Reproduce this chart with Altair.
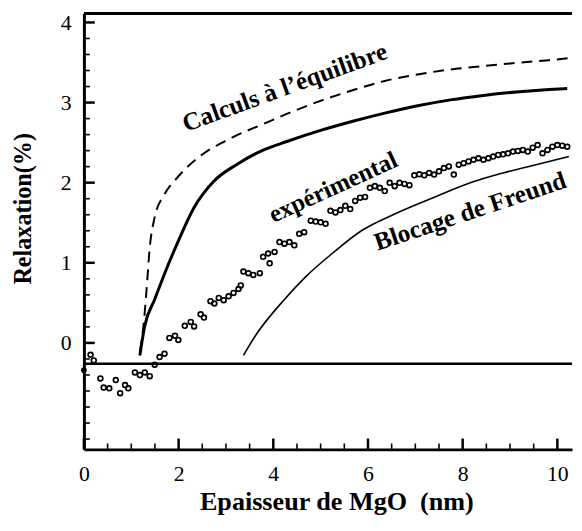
import altair as alt
import pandas as pd

# ---------------- data ----------------
EXP_X = [0.140, 0.208, 0.348, 0.417, 0.535, 0.673, 0.765, 0.869, 0.938, 1.077, 1.181, 1.285,
         1.390, 1.494, 1.598, 1.702, 1.806, 1.923, 1.994, 2.131, 2.256, 2.327, 2.465, 2.535,
         2.673, 2.756, 2.848, 2.952, 3.056, 3.160, 3.265, 3.313, 3.369, 3.473, 3.577, 3.715,
         3.785, 3.890, 3.923, 4.027, 4.131, 4.235, 4.340, 4.444, 4.548, 4.652, 4.792, 4.896,
         5.000, 5.104, 5.208, 5.313, 5.417, 5.521, 5.625, 5.729, 5.833, 5.938, 6.042, 6.146,
         6.250, 6.354, 6.458, 6.563, 6.667, 6.771, 6.875, 6.979, 7.083, 7.188, 7.292, 7.396,
         7.500, 7.604, 7.708, 7.813, 7.917, 8.021, 8.125, 8.229, 8.333, 8.438, 8.542, 8.646,
         8.750, 8.854, 8.958, 9.063, 9.167, 9.271, 9.375, 9.479, 9.583, 9.688, 9.792, 9.896,
         10.000, 10.104, 10.208]
EXP_Y = [-0.148, -0.218, -0.443, -0.558, -0.566, -0.464, -0.628, -0.526, -0.566, -0.369, -0.402, -0.369,
         -0.415, -0.271, -0.176, -0.135, 0.062, 0.090, 0.037, 0.213, 0.262, 0.206, 0.357, 0.316,
         0.521, 0.492, 0.562, 0.533, 0.582, 0.624, 0.673, 0.718, 0.890, 0.870, 0.849, 0.870,
         1.074, 1.116, 0.993, 1.136, 1.259, 1.239, 1.259, 1.218, 1.362, 1.382, 1.526, 1.514,
         1.505, 1.486, 1.649, 1.628, 1.658, 1.711, 1.670, 1.772, 1.813, 1.822, 1.936, 1.957,
         1.936, 1.895, 1.998, 1.957, 1.998, 1.985, 1.969, 2.092, 2.105, 2.092, 2.121, 2.101,
         2.142, 2.182, 2.203, 2.101, 2.224, 2.244, 2.265, 2.286, 2.305, 2.286, 2.305, 2.326,
         2.347, 2.354, 2.367, 2.388, 2.396, 2.409, 2.388, 2.437, 2.470, 2.367, 2.409, 2.449,
         2.470, 2.462, 2.449]
REF_X = [0.0]
REF_Y = [-0.341]

CALC_X = [1.181, 1.285, 1.494, 1.735, 2.000, 2.327, 2.744, 3.229, 3.785, 4.271, 4.965,
          5.660, 6.354, 7.048, 7.744, 8.438, 9.131, 9.827, 10.208]
CALC_Y = [-0.156, 0.213, 0.542, 0.911, 1.280, 1.690, 2.018, 2.228, 2.406, 2.511, 2.646,
          2.763, 2.868, 2.960, 3.034, 3.089, 3.132, 3.163, 3.175]

EQ_X = [1.188, 1.271, 1.323, 1.385, 1.494, 1.702, 1.979, 2.396, 3.090, 3.785, 4.271,
        4.965, 5.660, 6.354, 7.048, 7.744, 8.438, 9.131, 9.827, 10.300]
EQ_Y = [-0.098, 0.295, 0.665, 1.157, 1.567, 1.855, 2.068, 2.305, 2.551, 2.732, 2.855,
        3.015, 3.151, 3.270, 3.351, 3.413, 3.455, 3.495, 3.529, 3.557]

FR_X = [3.369, 3.646, 4.235, 4.688, 5.244, 5.869, 6.563, 7.465, 8.160, 8.854, 9.548, 10.244]
FR_Y = [-0.156, 0.111, 0.542, 0.828, 1.116, 1.403, 1.609, 1.834, 1.998, 2.121, 2.224, 2.326]

BASE_Y = [-0.26]

NOTE_TEXT = ["Calculs à l’équilibre", "expérimental", "Blocage de Freund"]
NOTE_X = [4.30, 5.33, 8.21]
NOTE_Y = [3.095, 1.855, 1.547]
NOTE_ANGLE = [340, 335.5, 341.5]
NOTE_SIZE = [25.5, 25, 25.5]

X_DOMAIN = [0, 10.31]
Y_DOMAIN = [-1.329, 4.111]
X_MAJOR = [0, 2, 4, 6, 8, 10]
X_MINOR = [0.5, 1, 1.5, 2.5, 3, 3.5, 4.5, 5, 5.5, 6.5, 7, 7.5, 8.5, 9, 9.5]
Y_MAJOR = [0, 1, 2, 3, 4]
Y_MINOR = [-1.2, -1.0, -0.8, -0.6, -0.4, -0.2, 0.2, 0.4, 0.6, 0.8, 1.2, 1.4, 1.6, 1.8,
           2.2, 2.4, 2.6, 2.8, 3.2, 3.4, 3.6, 3.8]

# ---------------- tables ----------------
exp_df = pd.DataFrame({"x": EXP_X, "y": EXP_Y})
ref_df = pd.DataFrame({"x": REF_X, "y": REF_Y})
calc_df = pd.DataFrame({"x": CALC_X, "y": CALC_Y})
eq_df = pd.DataFrame({"x": EQ_X, "y": EQ_Y})
fr_df = pd.DataFrame({"x": FR_X, "y": FR_Y})
base_df = pd.DataFrame({"y": BASE_Y})
frame_df = pd.DataFrame({"y": [Y_DOMAIN[1]]})
note_df = pd.DataFrame({"x": NOTE_X, "y": NOTE_Y, "t": NOTE_TEXT, "a": NOTE_ANGLE,
                        "s": NOTE_SIZE})
xmaj_df = pd.DataFrame({"v": X_MAJOR, "edge": [Y_DOMAIN[0]] * len(X_MAJOR)})
ymaj_df = pd.DataFrame({"v": Y_MAJOR, "edge": [X_DOMAIN[0]] * len(Y_MAJOR)})
xmin_df = pd.DataFrame({"v": X_MINOR, "edge": [Y_DOMAIN[0]] * len(X_MINOR)})
ymin_df = pd.DataFrame({"v": Y_MINOR, "edge": [X_DOMAIN[0]] * len(Y_MINOR)})

FONT = "Liberation Serif"
xs = alt.Scale(domain=X_DOMAIN, nice=False, zero=False)
ys = alt.Scale(domain=Y_DOMAIN, nice=False, zero=False)

x_axis = alt.Axis(
    orient="bottom", values=X_MAJOR, format="d", ticks=False,
    domainWidth=3, domainColor="black", grid=False,
    labelFont=FONT, labelFontSize=22, labelColor="black", labelPadding=32,
    labelBaseline="alphabetic", labelOverlap=False, labelFlush=False,
    title="Epaisseur de MgO \u00a0(nm)", titleFont=FONT, titleFontSize=26.5,
    titleFontWeight="bold", titleColor="black", titleX=256, titleY=61,
    titleBaseline="alphabetic", titleAlign="center",
)
y_axis = alt.Axis(
    orient="left", values=Y_MAJOR, format="d", ticks=False,
    domainWidth=3, domainColor="black", grid=False,
    labelFont=FONT, labelFontSize=22, labelColor="black", labelPadding=13,
    labelOverlap=False, labelFlush=False,
    title="Relaxation(%)", titleFont=FONT, titleFontSize=24.5, titleFontWeight="bold",
    titleColor="black", titleX=-54, titleY=197.5, titleAngle=270,
    titleBaseline="alphabetic", titleAlign="center",
)


def X(field):
    return alt.X(field, scale=xs, axis=x_axis)


def Y(field):
    return alt.Y(field, scale=ys, axis=y_axis)


points = alt.Chart(exp_df).mark_point(
    shape="circle", filled=False, size=24, strokeWidth=1.7, color="black", opacity=1
).encode(x=X("x:Q"), y=Y("y:Q"))

ref_pt = alt.Chart(ref_df).mark_point(
    shape="circle", filled=True, size=34, color="black", opacity=1
).encode(x=X("x:Q"), y=Y("y:Q"))

base = alt.Chart(base_df).mark_rule(color="black", strokeWidth=2.5).encode(y=Y("y:Q"))
frame = alt.Chart(frame_df).mark_rule(color="black", strokeWidth=3).encode(y=Y("y:Q"))

calc = alt.Chart(calc_df).mark_line(color="black", strokeWidth=3, interpolate="monotone").encode(
    x=X("x:Q"), y=Y("y:Q"))

eq = alt.Chart(eq_df).mark_line(color="black", strokeWidth=2, strokeDash=[11, 7],
                                 interpolate="monotone").encode(x=X("x:Q"), y=Y("y:Q"))

fr = alt.Chart(fr_df).mark_line(color="black", strokeWidth=1.6, interpolate="monotone").encode(
    x=X("x:Q"), y=Y("y:Q"))

notes = alt.Chart(note_df).mark_text(
    font=FONT, fontWeight="bold", color="black", align="center", baseline="alphabetic"
).encode(x=X("x:Q"), y=Y("y:Q"), text="t:N",
         angle=alt.Angle("a:Q", scale=None), size=alt.Size("s:Q", scale=None))


def yticks(df, length, width):
    return alt.Chart(df).mark_tick(orient="horizontal", size=length, thickness=width,
                                   xOffset=length / 2, color="black", opacity=1).encode(
        y=Y("v:Q"), x=X("edge:Q"))


def xticks(df, length, width):
    return alt.Chart(df).mark_tick(orient="vertical", size=length, thickness=width,
                                   yOffset=-length / 2, color="black", opacity=1).encode(
        x=X("v:Q"), y=Y("edge:Q"))


chart = alt.layer(
    points, base, frame, calc, eq, fr, ref_pt, notes,
    yticks(ymaj_df, 11, 2.5), yticks(ymin_df, 6, 1.6),
    xticks(xmaj_df, 11, 2.5), xticks(xmin_df, 6, 1.6),
).properties(
    width=495, height=442,
    autosize=alt.AutoSizeParams(type="none"),
    padding={"left": 77, "top": 2, "right": 2, "bottom": 70},
    background="white",
).configure_view(strokeWidth=0)

chart.save("out.html", embed_options={"renderer": "svg", "actions": False})
